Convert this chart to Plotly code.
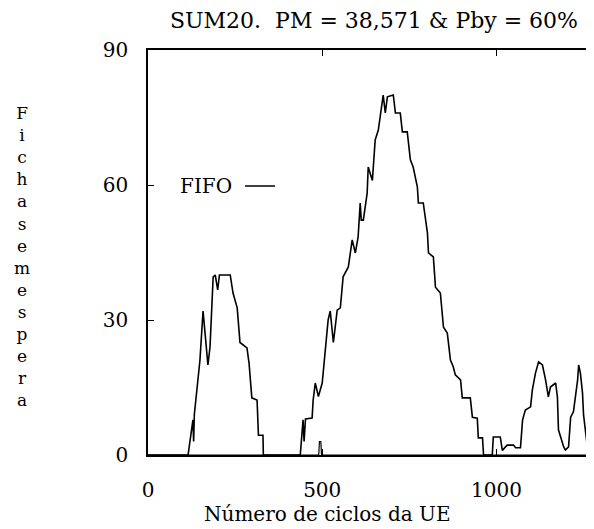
import plotly.graph_objects as go

# Main series: FIFO queue occupancy vs cycles
cycles = [0, 115, 129, 131, 133, 149, 158, 165, 172, 178, 187, 193, 200, 205, 210, 236,
          244, 256, 264, 284, 290, 298, 313, 317, 330, 331,
          437, 445, 448, 452, 471, 474, 480, 489, 500, 509, 517, 523, 532, 543, 552, 560,
          575, 586, 595, 603, 609, 612, 618, 629, 632, 644, 652, 661, 667, 675, 681, 687,
          704, 710, 724, 730, 744, 753, 761, 773, 776, 790, 802, 805, 819, 825, 839, 848,
          859, 868, 876, 882, 897, 902, 925, 931, 945, 948, 960, 963,
          988, 991, 1011, 1017, 1026, 1031, 1049, 1055, 1069, 1075, 1083, 1098, 1103, 1112,
          1121, 1132, 1141, 1149, 1155, 1170, 1175, 1178, 1193, 1198, 1207, 1213, 1221,
          1233, 1236, 1241, 1247, 1250, 1261, 1264, 1280]
fichas = [0, 0, 7.8, 3, 9, 21, 32, 26, 20, 24, 39.6, 40, 36.7, 40, 40, 40,
          36, 32.7, 25, 23.8, 20.4, 12.7, 12.2, 4.4, 4.4, 0,
          0, 7.8, 3, 8, 8.2, 12.2, 16, 13, 16, 22.7, 30, 32, 25, 32.2, 32.7, 39.6,
          41.8, 47.8, 44.9, 48.4, 56, 52.2, 52.2, 58.2, 64, 61, 70, 72.2, 76, 80, 76, 79.6,
          80, 76, 76, 71.8, 71.8, 65.6, 64, 59.6, 56, 56, 49.3, 44.9, 44, 37.3, 36, 28.4,
          27.1, 21.1, 19.6, 17.8, 16.7, 12.7, 12.7, 8.4, 8.2, 3.8, 3.8, 0,
          0, 4, 4, 1, 1.8, 2.2, 2.2, 1.6, 1.6, 7.8, 10, 10.7, 14.4, 18.2,
          20.7, 20, 16.7, 12.9, 15.1, 16, 12.9, 5.6, 1.8, 1.1, 1.8, 8.4, 9.6,
          16.7, 20, 18.2, 13.8, 8.9, 1.8, 0, 0]

# Secondary near-zero series
cycles2 = [0, 490, 492, 496, 498, 1280]
fichas2 = [0, 0, 3, 3, 0, 0]

x_ticks = [0, 500, 1000]
y_ticks = [0, 30, 60, 90]

title_text = "SUM20.  PM = 38,571 &amp; Pby = 60%"
x_title = "Número de ciclos da UE"
y_title = "Fichas em espera"

FONT = "DejaVu Serif"

# The page body has a default 8px margin; the figure is sized to fit the window.
OFF = 8
W, H = 586, 521
ML, MR, MT, MB = 140, 0, 42, 74
PW, PH = W - ML - MR, H - MT - MB

fig = go.Figure()
fig.add_trace(go.Scatter(x=cycles2, y=fichas2, mode="lines",
                         line=dict(color="black", width=1.2), showlegend=False))
fig.add_trace(go.Scatter(x=cycles, y=fichas, mode="lines", name=" ",
                         line=dict(color="black", width=1.6)))

stacked = "<br>".join(ch for ch in y_title.replace(" ", ""))

fig.update_layout(
    width=W, height=H,
    margin=dict(l=ML, r=MR, t=MT, b=MB, autoexpand=False),
    paper_bgcolor="white", plot_bgcolor="white",
    font=dict(family=FONT, size=20, color="black"),
    title=dict(text=title_text, x=(374 - OFF) / W, xanchor="center",
               y=1 - (20 - OFF) / H, yanchor="middle",
               font=dict(family=FONT, size=22, color="black")),
    xaxis=dict(range=[0, 1280], tickvals=x_ticks, ticks="inside", ticklen=6,
               tickwidth=1.2, tickcolor="black", showline=True, linecolor="black",
               linewidth=1.5, mirror="ticks", showgrid=False, zeroline=False,
               ticklabelstandoff=16, automargin=False),
    yaxis=dict(range=[0, 90], tickvals=y_ticks, ticks="inside", ticklen=6,
               tickwidth=1.2, tickcolor="black", showline=True, linecolor="black",
               linewidth=1.5, mirror="ticks", showgrid=False, zeroline=False,
               ticklabelstandoff=14, automargin=False),
    legend=dict(title=dict(text="FIFO", side="left", font=dict(family=FONT, size=20)),
                x=(178 - 148) / PW, xanchor="left", y=(455 - 186) / PH, yanchor="middle",
                bgcolor="rgba(0,0,0,0)", itemwidth=30,
                font=dict(family=FONT, size=20)),
    annotations=[
        dict(text=x_title, xref="paper", yref="paper", x=(327 - 148) / PW,
             y=-(514 - 455) / PH, xanchor="center", yanchor="middle", showarrow=False,
             font=dict(family=FONT, size=20)),
        dict(text=stacked, xref="paper", yref="paper", x=(22 - 148) / PW,
             y=(455 - 257) / PH, xanchor="center", yanchor="middle", showarrow=False,
             font=dict(family=FONT, size=17)),
    ],
)

fig.write_html("out.html")
